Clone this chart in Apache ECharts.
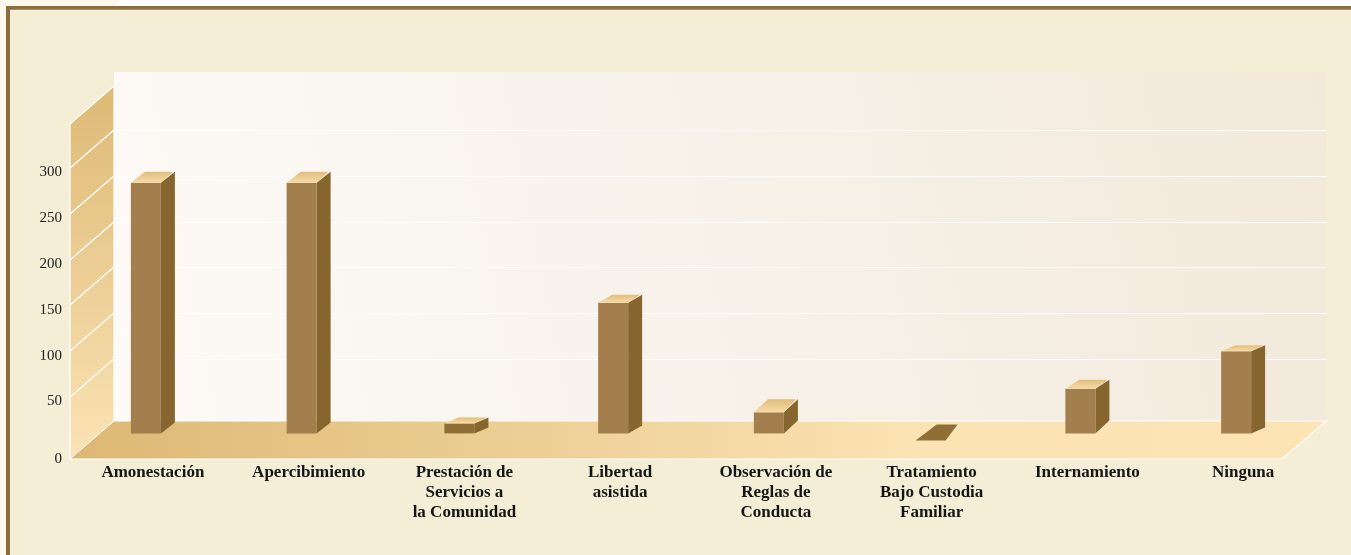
<!DOCTYPE html>
<html><head><meta charset="utf-8">
<style>html,body{margin:0;padding:0;background:#fff}#c{width:1351px;height:555px}</style>
<script src="https://cdn.jsdelivr.net/npm/echarts@6/dist/echarts.min.js"></script>
</head><body><div id="c"></div>
<script>
const categories = ['Amonestación','Apercibimiento','Prestación de\nServicios a\nla Comunidad','Libertad\nasistida','Observación de\nReglas de\nConducta','Tratamiento\nBajo Custodia\nFamiliar','Internamiento','Ninguna'];
const values = [256, 256, 8, 125, 17, 0, 36, 72];
const tickLabels = [0, 50, 100, 150, 200, 250, 300];
const gridValues = [50, 100, 150, 200, 250, 300];

// The drawn axis stretches its first interval: 0 sits at the floor's edge and 50 upward is even.
const AXIS_MIN = -17.7, AXIS_MAX = 348;
function stretched(v){ return v >= 50 ? v : AXIS_MIN + v * (50 - AXIS_MIN) / 50; }

// Look of the pseudo-3D scene
const WALL_DX = 44, WALL_DY = 38, FRONT_L = 70, FRONT_R = 1282, FRONT_B = 459, FRONT_T = 124, BACK_T = 72;
const BAR_W = 30, BAR_LIFT = 25.6, BAR_OFF = 22;
const barDepthX = [14,14,14,14,14,21,14,14];
const barTopDy = [11,11,6,8,13,16,9,6];
const barBaseDy = [11,11,6,8,13,16,13,6];
const barShiftX = [0,0,2,0,0,6,0,0];
const barShiftY = [0,0,0,0,0,7,0,0];
const barTopNarrow = [0,0,0,0,0,7,0,0];

const vert = (a,b)=>({type:'linear',x:0,y:0,x2:0,y2:1,colorStops:[{offset:0,color:a},{offset:1,color:b}]});
const BL = FRONT_L + WALL_DX, BR = FRONT_R + WALL_DX, BB = FRONT_B - WALL_DY;
const elements = [
  {type:'rect',shape:{x:0,y:0,width:1351,height:555},style:{fill:'#fdf8ec'}},
  {type:'polygon',shape:{points:[[120,0],[1351,0],[1351,6],[116,6]]},style:{fill:'#ffffff'}},
  {type:'rect',shape:{x:6,y:6,width:1345,height:549},style:{fill:'#8a6d3b'}},
  {type:'rect',shape:{x:10,y:9,width:1341,height:1},style:{fill:'#a8946a'}},
  {type:'rect',shape:{x:10,y:10,width:1341,height:545},style:{fill:'#f4eed7'}},
  {type:'rect',shape:{x:BL,y:BACK_T,width:BR-BL,height:BB-BACK_T},style:{fill:{type:'linear',x:0,y:0.85,x2:1,y2:0.15,colorStops:[{offset:0,color:'#fdfaf7'},{offset:0.4,color:'#f8f3ec'},{offset:1,color:'#f2e9da'}]}}},
  {type:'polygon',shape:{points:[[FRONT_L,FRONT_T],[BL,FRONT_T-WALL_DY],[BL,BB],[FRONT_L,FRONT_B]]},style:{fill:vert('#ddb975','#fbe3b4')}},
  {type:'polygon',shape:{points:[[FRONT_L,FRONT_B],[BL,BB],[BR,BB],[FRONT_R,FRONT_B]]},style:{fill:{type:'linear',x:0,y:0,x2:1,y2:0,colorStops:[{offset:0,color:'#dcb873'},{offset:0.68,color:'#fce3b3'},{offset:1,color:'#fde4b5'}]}}},
  {type:'polyline',shape:{points:[[FRONT_L,FRONT_T],[BL,FRONT_T-WALL_DY],[BL,BB]]},style:{fill:null,stroke:'#fff',lineWidth:1.2}},
  {type:'polyline',shape:{points:[[BL,BB],[BR,BB],[FRONT_R,FRONT_B],[FRONT_L,FRONT_B],[FRONT_L,FRONT_T]]},style:{fill:null,stroke:'#fff',lineWidth:1.2}},
  {type:'line',shape:{x1:FRONT_L,y1:FRONT_B,x2:BL,y2:BB},style:{stroke:'#fff',lineWidth:1}}
].map(e=>Object.assign(e,{z:-10,silent:true}));

const yFont = {fontFamily:'Liberation Serif',fontSize:15,color:'#222'};
const chart = echarts.init(document.getElementById('c'),null,{renderer:'canvas',width:1351,height:555});
chart.setOption({
  animation:false,
  backgroundColor:'#ffffff',
  graphic:{z:-10,elements},
  grid:{left:75,right:30,top:FRONT_T,bottom:555-FRONT_B,containLabel:false},
  xAxis:{type:'category',data:categories,z:5,axisLine:{show:false},axisTick:{show:false},splitLine:{show:false},
    axisLabel:{interval:0,margin:4,color:'#151515',fontFamily:'Liberation Serif',fontWeight:'bold',fontSize:17,lineHeight:20,align:'center',verticalAlign:'top'}},
  yAxis:{type:'value',min:AXIS_MIN,max:AXIS_MAX,z:5,axisLine:{show:false},axisTick:{show:false},splitLine:{show:false},
    axisLabel:Object.assign({customValues:tickLabels.map(stretched),margin:13,
      formatter:v=>v<50?'{a|0}':'{b|'+Math.round(v)+'}',
      rich:{a:Object.assign({padding:[0,0,0,0]},yFont),b:Object.assign({padding:[9,0,0,0]},yFont)}},yFont)},
  series:[
    {type:'custom',name:'grid',z:2,silent:true,clip:false,data:gridValues.map(v=>[0,v]),
     renderItem(params,api){
       const y=Math.round(api.coord([0,api.value(1)])[1]);
       return {type:'group',children:[
         {type:'line',shape:{x1:FRONT_L,y1:y,x2:BL,y2:y-WALL_DY},style:{stroke:'#fff',lineWidth:1.3}},
         {type:'line',shape:{x1:BL,y1:y-WALL_DY+0.5,x2:BR,y2:y-WALL_DY+0.5},style:{stroke:'#fff',lineWidth:1}}
       ]};
     }},
    {type:'custom',name:'Casos',z:3,silent:true,clip:false,encode:{x:0,y:1},
     data:values.map((v,i)=>[i,stretched(v),v]),
     renderItem(params,api){
       const i=api.value(0), raw=api.value(2);
       const cx=api.coord([i,AXIS_MIN])[0];
       const x=cx-BAR_OFF+barShiftX[i], x2=x+BAR_W;
       const b=api.coord([i,AXIS_MIN])[1]-BAR_LIFT+barShiftY[i];
       const t=api.coord([i,api.value(1)])[1]-BAR_LIFT+barShiftY[i];
       const dx=barDepthX[i], dt=barTopDy[i], db=barBaseDy[i], nar=barTopNarrow[i];
       const dark=raw<10;
       return {type:'group',children:[
         {type:'polygon',shape:{points:[[x2,t],[x2+dx,t-dt],[x2+dx,b-db],[x2,b]]},style:{fill:'#87652f'}},
         {type:'rect',shape:{x:x,y:t,width:BAR_W,height:b-t},style:{fill:dark?'#8e6f35':'#a37f4d'}},
         {type:'polygon',shape:{points:[[x,t],[x+dx,t-dt],[x2+dx-nar-2,t-dt],[x2,t]]},style:{fill:raw===0?'#8e6f35':vert('#e3bd7b','#f6dca7')}}
       ]};
     }}
  ]
});
</script></body></html>
